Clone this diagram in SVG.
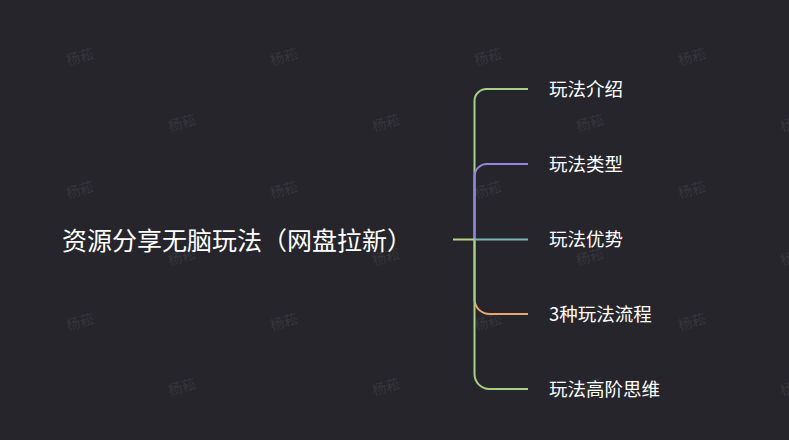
<svg xmlns="http://www.w3.org/2000/svg" width="789" height="440" viewBox="0 0 789 440">
  <style>
    .wm { font-family: "Noto Sans CJK SC", sans-serif; font-size: 14px; fill: #36353c; }
    .root { font-family: "Noto Sans CJK SC", sans-serif; font-size: 25px; fill: #ffffff; }
    .child { font-family: "Noto Sans CJK SC", sans-serif; font-size: 18.5px; fill: #ffffff; }
    .edge { fill: none; stroke-width: 2; stroke-linecap: butt; }
  </style>
  <rect width="789" height="440" fill="#26252b"/>
  <g id="watermarks">
    <text class="wm" transform="translate(80,57) rotate(-15)" text-anchor="middle" dy="5">杨菘</text>
    <text class="wm" transform="translate(284,57) rotate(-15)" text-anchor="middle" dy="5">杨菘</text>
    <text class="wm" transform="translate(488,57) rotate(-15)" text-anchor="middle" dy="5">杨菘</text>
    <text class="wm" transform="translate(692,57) rotate(-15)" text-anchor="middle" dy="5">杨菘</text>
    <text class="wm" transform="translate(182,123) rotate(-15)" text-anchor="middle" dy="5">杨菘</text>
    <text class="wm" transform="translate(386,123) rotate(-15)" text-anchor="middle" dy="5">杨菘</text>
    <text class="wm" transform="translate(590,123) rotate(-15)" text-anchor="middle" dy="5">杨菘</text>
    <text class="wm" transform="translate(794,123) rotate(-15)" text-anchor="middle" dy="5">杨菘</text>
    <text class="wm" transform="translate(80,190) rotate(-15)" text-anchor="middle" dy="5">杨菘</text>
    <text class="wm" transform="translate(284,190) rotate(-15)" text-anchor="middle" dy="5">杨菘</text>
    <text class="wm" transform="translate(488,190) rotate(-15)" text-anchor="middle" dy="5">杨菘</text>
    <text class="wm" transform="translate(692,190) rotate(-15)" text-anchor="middle" dy="5">杨菘</text>
    <text class="wm" transform="translate(182,257) rotate(-15)" text-anchor="middle" dy="5">杨菘</text>
    <text class="wm" transform="translate(386,257) rotate(-15)" text-anchor="middle" dy="5">杨菘</text>
    <text class="wm" transform="translate(590,257) rotate(-15)" text-anchor="middle" dy="5">杨菘</text>
    <text class="wm" transform="translate(794,257) rotate(-15)" text-anchor="middle" dy="5">杨菘</text>
    <text class="wm" transform="translate(80,322) rotate(-15)" text-anchor="middle" dy="5">杨菘</text>
    <text class="wm" transform="translate(284,322) rotate(-15)" text-anchor="middle" dy="5">杨菘</text>
    <text class="wm" transform="translate(488,322) rotate(-15)" text-anchor="middle" dy="5">杨菘</text>
    <text class="wm" transform="translate(692,322) rotate(-15)" text-anchor="middle" dy="5">杨菘</text>
    <text class="wm" transform="translate(182,387) rotate(-15)" text-anchor="middle" dy="5">杨菘</text>
    <text class="wm" transform="translate(386,387) rotate(-15)" text-anchor="middle" dy="5">杨菘</text>
    <text class="wm" transform="translate(590,387) rotate(-15)" text-anchor="middle" dy="5">杨菘</text>
    <text class="wm" transform="translate(794,387) rotate(-15)" text-anchor="middle" dy="5">杨菘</text>
  </g>
  <g id="connectors">
    <path class="edge" stroke="#eba56e" d="M474.5,240 V299 A15,15 0 0 0 489.5,314 H528"/>
    <path class="edge" stroke="#a9cf85" d="M474.5,240 V374 A15,15 0 0 0 489.5,389 H528"/>
    <path class="edge" stroke="#a9cf85" d="M474.5,240 V101 A12,12 0 0 1 486.5,89 H528"/>
    <path class="edge" stroke="#8d88dc" d="M528,164 H487 A12.5,12.5 0 0 0 474.5,176.5 V240"/>
    <path class="edge" stroke="#76b6b8" d="M474.5,239.5 H528"/>
    <path class="edge" stroke="#b5d484" d="M453,239.5 H474.5"/>
  </g>
  <g id="root">
    <text class="root" x="62" y="250">资源分享无脑玩法（网盘拉新）</text>
  </g>
  <g id="n1"><text class="child" x="549" y="96">玩法介绍</text></g>
  <g id="n2"><text class="child" x="549" y="171">玩法类型</text></g>
  <g id="n3"><text class="child" x="549" y="246">玩法优势</text></g>
  <g id="n4"><text class="child" x="549" y="321">3种玩法流程</text></g>
  <g id="n5"><text class="child" x="549" y="396">玩法高阶思维</text></g>
</svg>
